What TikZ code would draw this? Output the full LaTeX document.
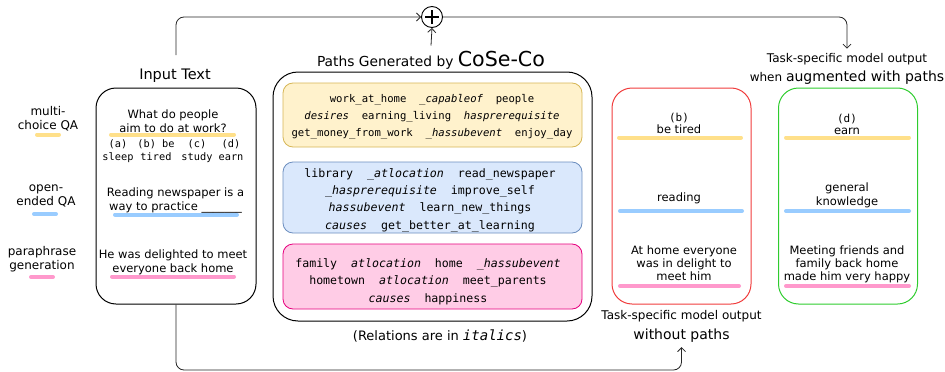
\documentclass[tikz,border=0pt]{standalone}
\usepackage{fontspec}
\setmainfont{DejaVu Sans}
\setmonofont{DejaVu Sans Mono}
\usetikzlibrary{arrows.meta}
\definecolor{cyel}{HTML}{FFE08A}
\definecolor{cblu}{HTML}{99CCFF}
\definecolor{cpnk}{HTML}{FF99CC}
\definecolor{yfill}{HTML}{FFF2CC}
\definecolor{ydraw}{HTML}{D6B656}
\definecolor{bfill}{HTML}{DAE8FC}
\definecolor{bdraw}{HTML}{6C8EBF}
\definecolor{pfill}{HTML}{FFCCE6}
\definecolor{pdraw}{HTML}{E6007E}
\definecolor{redb}{HTML}{F03C3C}
\definecolor{greenb}{HTML}{2ECC2E}
\newcommand\gap{\hspace{1.204em}}
\begin{document}
\begin{tikzpicture}[x=1pt,y=-1pt,
  txt/.style={font=\fontsize{11.5}{14}\selectfont, align=center, inner sep=0pt, anchor=base},
  lbl/.style={font=\fontsize{12}{14}\selectfont, align=center, inner sep=0pt, anchor=base},
  mono/.style={font=\ttfamily\fontsize{11.6}{17.3}\selectfont, align=center, inner sep=0pt, anchor=base},
  smono/.style={font=\ttfamily\fontsize{10.6}{17}\selectfont, align=center, inner sep=0pt, anchor=base},
  opt/.style={font=\ttfamily\fontsize{10.3}{13}\selectfont, align=center, inner sep=0pt, anchor=base},
  panel/.style={draw, line width=1pt, rounded corners=20pt, inner sep=0pt},
  pathbox/.style={draw, line width=0.8pt, rounded corners=10pt, inner sep=0pt, minimum width=299pt},
  hbar/.style={line width=4pt, line cap=round},
  conn/.style={draw=black!85, line width=0.8pt, rounded corners=8pt},
  tip/.style={-{Straight Barb[length=4pt,width=8pt]}},
]
\useasboundingbox (0,0) rectangle (945,372);

% ---- left task labels (anchor = baseline of last line)
\node[lbl] (l1) at (48,129) {multi-\\choice QA};
\node[lbl] (l2) at (46,205) {open-\\ended QA};
\node[lbl] (l3) at (42,269) {paraphrase\\generation};
\draw[hbar, cyel] (37,134.5) -- (59,134.5);
\draw[hbar, cblu] (34,214) -- (56,214);
\draw[hbar, cpnk] (31,277) -- (53,277);

% ---- input panel
\node[font=\fontsize{14.5}{16}\selectfont, inner sep=0pt, anchor=base] (intitle) at (175,79) {Input Text};
\node[panel, minimum width=160pt, minimum height=216pt] (inbox) at (176,196) {};
\node[txt] (q1) at (173,132) {What do people\\aim to do at work?};
\node[opt] (oa) at (118,160.5) {(a)\\sleep};
\node[opt] (ob) at (156,160.5) {(b) be\\tired};
\node[opt] (oc) at (197,160.5) {(c)\\study};
\node[opt] (od) at (231,160.5) {(d)\\earn};
\draw[hbar, cyel] (111,134.5) -- (234,134.5);
\node[txt] (q2) at (175.5,210) {Reading newspaper is a\\way to practice \_\_\_\_\_\_\_};
\draw[hbar, cblu] (115,214.5) -- (237,214.5);
\node[txt] (q3) at (173,272) {He was delighted to meet\\everyone back home};
\draw[hbar, cpnk] (112,276.5) -- (234,276.5);

% ---- paths panel
\node[inner sep=0pt, anchor=base] (ptitle) at (431,66) {\fontsize{13.8}{16}\selectfont Paths Generated by \fontsize{20.6}{22}\selectfont CoSe-Co};
\node[panel, rounded corners=25pt, minimum width=319pt, minimum height=249pt] (pbox) at (432.5,196.5) {};
\node[pathbox, draw=ydraw, fill=yfill, minimum height=64pt] (ybox) at (432.5,115) {};
\node[pathbox, draw=bdraw, fill=bfill, minimum height=71pt] (bbox) at (432.5,197.5) {};
\node[pathbox, draw=pdraw, fill=pfill, minimum height=65pt] (pkbox) at (432.5,276.5) {};
\node[smono] (ytext) at (432,136.5) {work\_at\_home\gap\textit{\_capableof}\gap people\\
\textit{desires}\gap earning\_living\gap\textit{hasprerequisite}\\
get\_money\_from\_work\gap\textit{\_hassubevent}\gap enjoy\_day};
\node[mono] (btext) at (430,229) {library\gap\textit{\_atlocation}\gap read\_newspaper\\
\textit{\_hasprerequisite}\gap improve\_self\\
\textit{hassubevent}\gap learn\_new\_things\\
\textit{causes}\gap get\_better\_at\_learning};
\node[mono] (ptext) at (428,302) {family\gap\textit{atlocation}\gap home\gap\textit{\_hassubevent}\\
hometown\gap\textit{atlocation}\gap meet\_parents\\
\textit{causes}\gap happiness};
\node[inner sep=0pt, anchor=base, font=\fontsize{13}{16}\selectfont] (rel) at (440,340) {(Relations are in {\ttfamily\itshape\fontsize{14}{16}\selectfont italics})};

% ---- output without paths
\node[panel, draw=redb, minimum width=139pt, minimum height=216pt] (redbox) at (681.5,196) {};
\node[opt, font=\ttfamily\fontsize{11}{13}\selectfont] (rb) at (679,121) {(b)};
\node[txt] (rb2) at (679,133) {be tired};
\draw[hbar, cyel] (619,137.5) -- (741,137.5);
\node[txt] (rr) at (679,201) {reading};
\draw[hbar, cblu] (620,211) -- (742,211);
\node[txt, font=\fontsize{11.5}{13}\selectfont] (rp) at (684,280) {At home everyone\\was in delight to\\meet him};
\draw[hbar, cpnk] (620,286) -- (739,286);
\node[inner sep=0pt, anchor=base, align=center, font=\fontsize{12}{20}\selectfont] (wo) at (681.5,339) {Task-specific model output\\{\fontsize{14}{20}\selectfont without paths}};

% ---- output with paths
\node[panel, draw=greenb, minimum width=139pt, minimum height=216pt] (greenbox) at (848,196) {};
\node[opt, font=\ttfamily\fontsize{11}{13}\selectfont] (gd) at (847,122) {(d)};
\node[txt] (gd2) at (847,134) {earn};
\draw[hbar, cyel] (786,137.5) -- (909,137.5);
\node[txt] (gk) at (847,205) {general\\knowledge};
\draw[hbar, cblu] (786,211) -- (909,211);
\node[txt, font=\fontsize{11.5}{13}\selectfont] (gp) at (847,280) {Meeting friends and\\family back home\\made him very happy};
\draw[hbar, cpnk] (786,286) -- (909,286);
\node[inner sep=0pt, anchor=base, align=center, font=\fontsize{12}{19}\selectfont] (aug) at (847,81) {Task-specific model output\\when {\fontsize{14}{19}\selectfont augmented with paths}};

% ---- combination node and connectors
\node[draw, circle, line width=0.9pt, minimum size=21pt, inner sep=0pt] (plus) at (432,17) {};
\draw[line width=1.3pt] ([yshift=-7pt]plus.center) -- ([yshift=7pt]plus.center)
  ([xshift=-7pt]plus.center) -- ([xshift=7pt]plus.center);
\draw[conn, tip] ([xshift=1pt,yshift=13pt]intitle.north) |- (plus.west);
\draw[conn, tip] ([yshift=5pt]ptitle.north) -- (plus.south);
\draw[conn, tip] (plus.east) -| ([yshift=4pt]aug.north);
\coordinate (bot) at (176,370);
\draw[conn, tip] (inbox.south) -- (bot) -| ([yshift=-5pt]wo.south);
\end{tikzpicture}
\end{document}
